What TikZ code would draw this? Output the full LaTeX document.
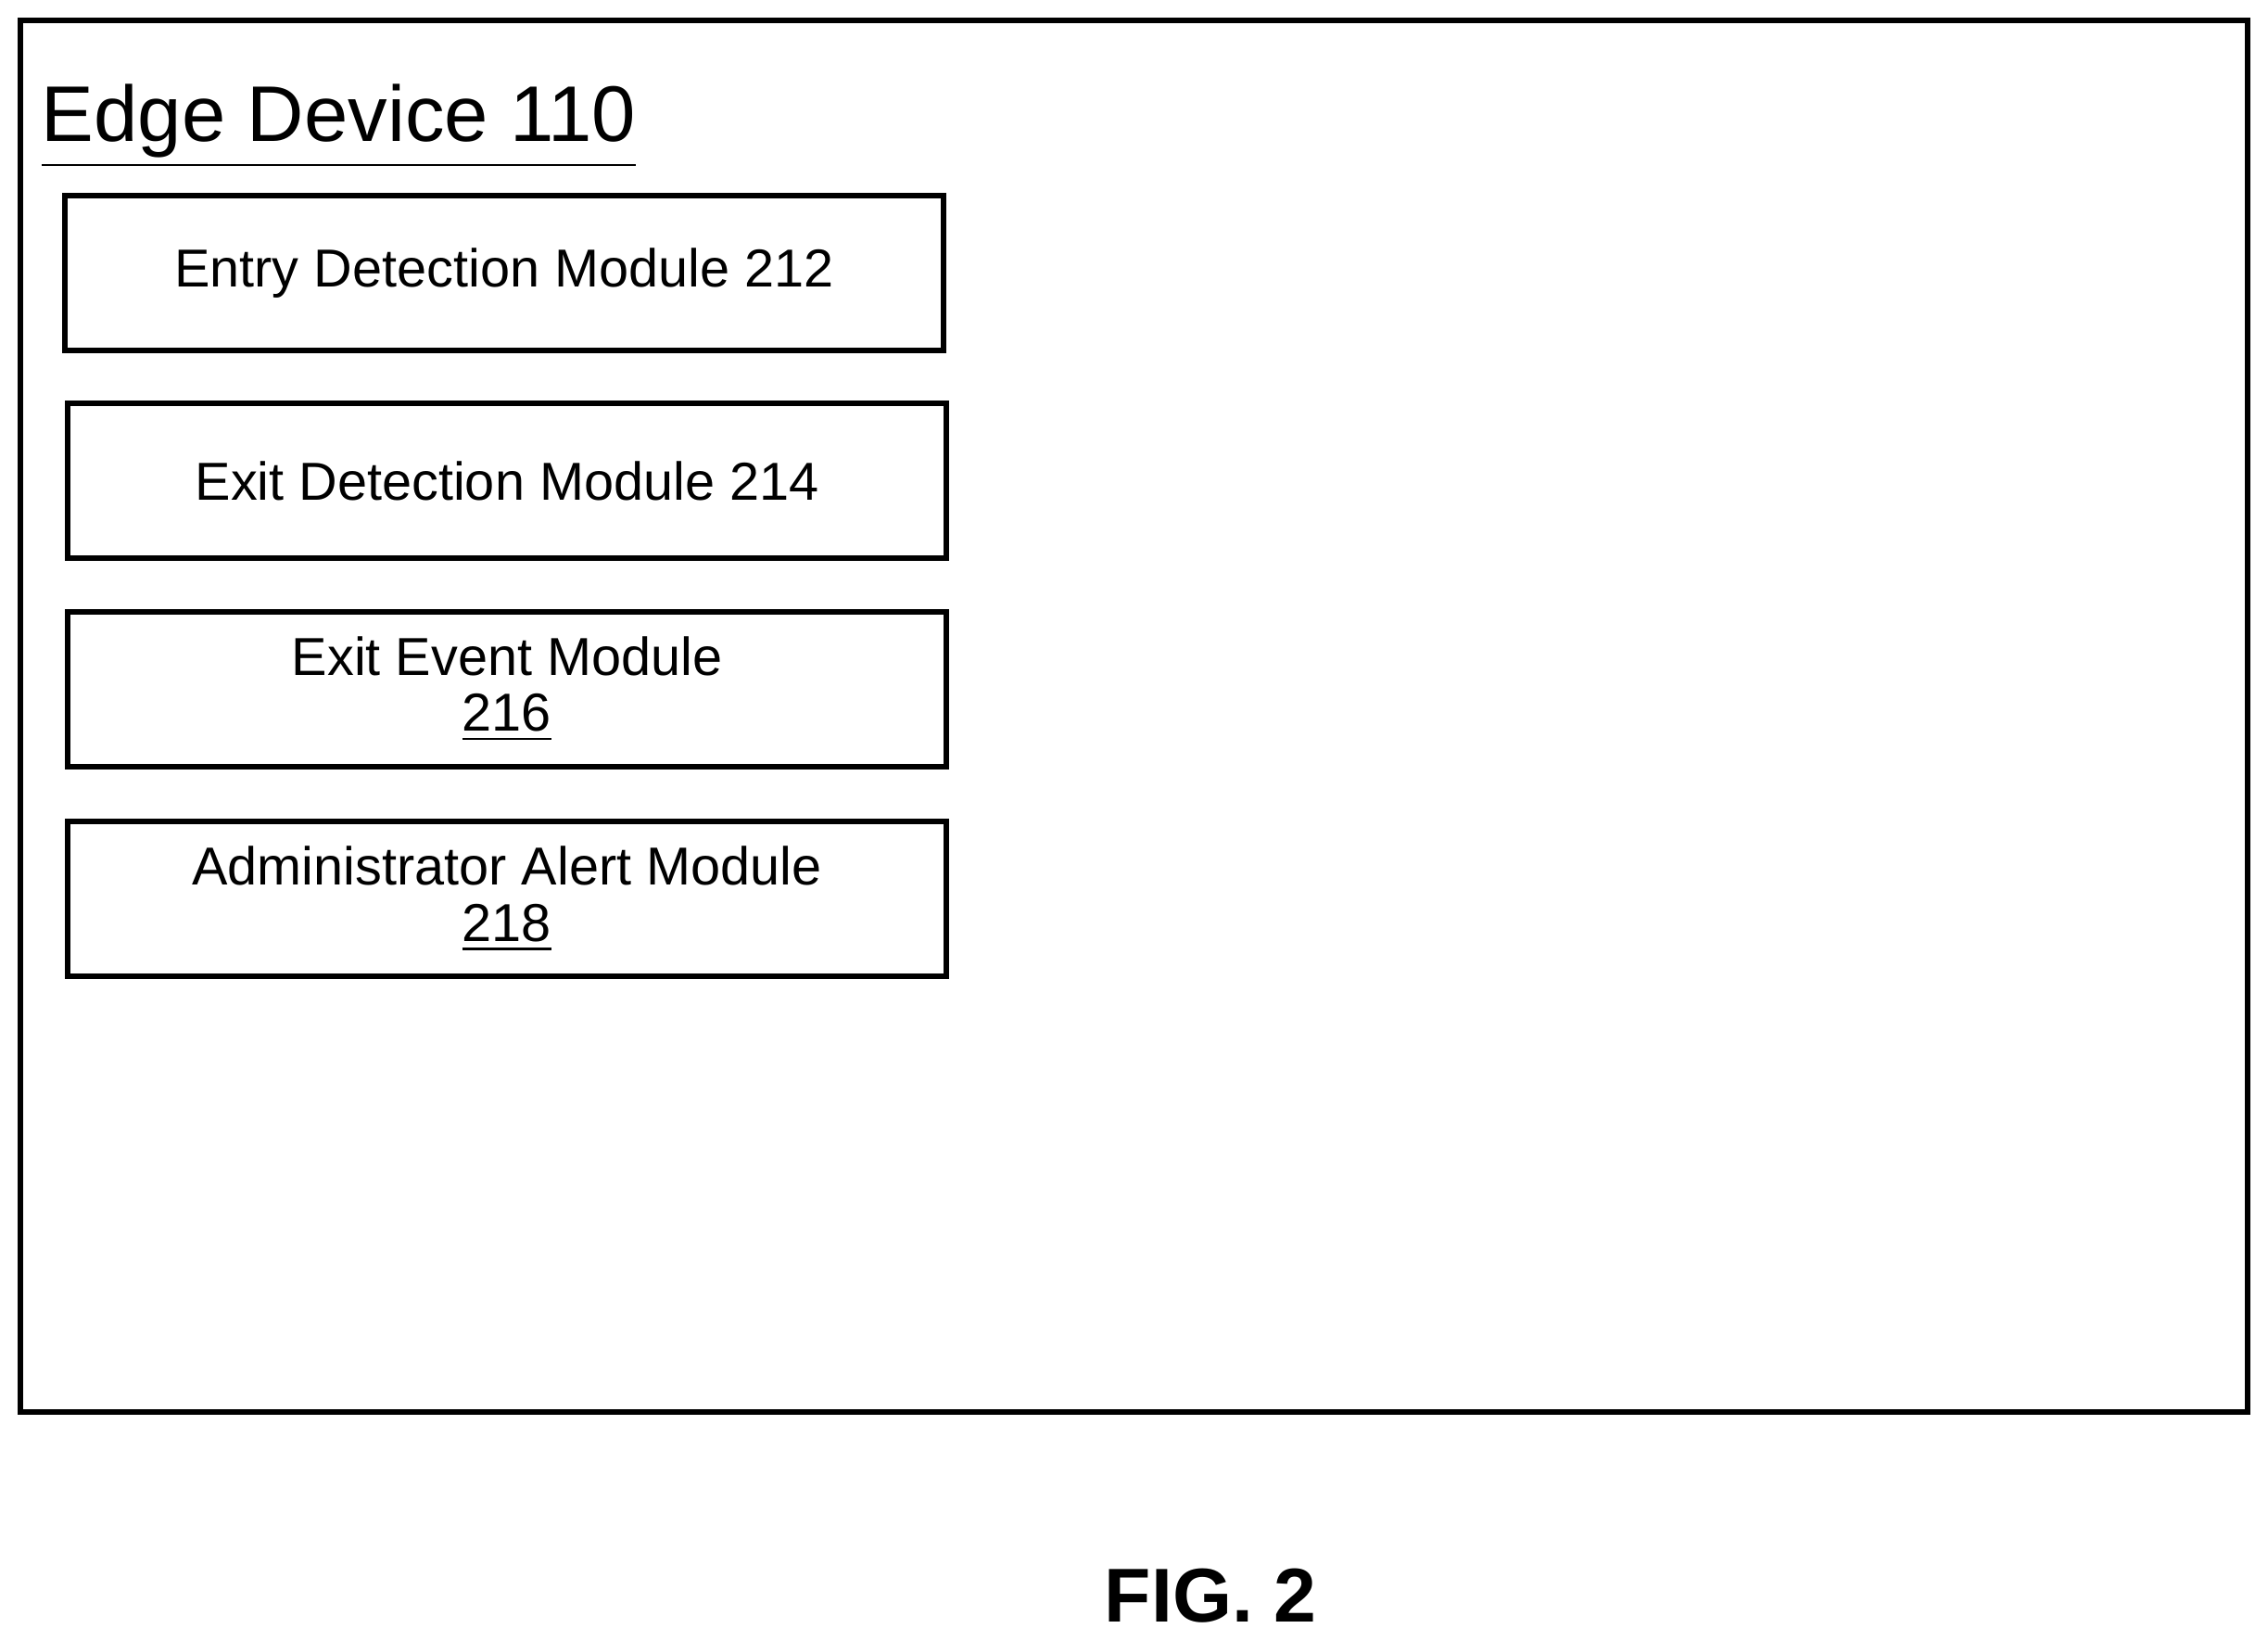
\documentclass[tikz,border=0pt]{standalone}
\usepackage{fontspec}
\setmainfont{Liberation Sans}
\begin{document}
\begin{tikzpicture}[x=0.01cm,y=-0.01cm,
    module/.style={rectangle, draw, line width=1.1pt, minimum width=6.07cm, minimum height=1.07cm, align=center, font=\fontsize{10.5}{12}\selectfont}
    ]
    \useasboundingbox (0,0) rectangle (1568,1134);
    \draw[line width=1.1pt] (14,14) rectangle (1554,976);
    \node[anchor=base west, inner sep=0pt, font=\fontsize{15.5}{18}\selectfont] (title) at (28,98) {\underline{Edge Device 110}};
    \node[module] (entry) at (348.5,188.5) {Entry Detection Module 212};
    \node[module] (exit) at (350.5,332.5) {Exit Detection Module 214};
    \node[module] (event) at (350.5,476.5) {Exit Event Module\\[-1pt]\underline{216}};
    \node[module] (alert) at (350.5,621.5) {Administrator Alert Module\\[-1pt]\underline{218}};
    \node[font=\fontsize{15}{18}\selectfont\bfseries] (fig) at (837,1103) {FIG. 2};
\end{tikzpicture}
\end{document}
